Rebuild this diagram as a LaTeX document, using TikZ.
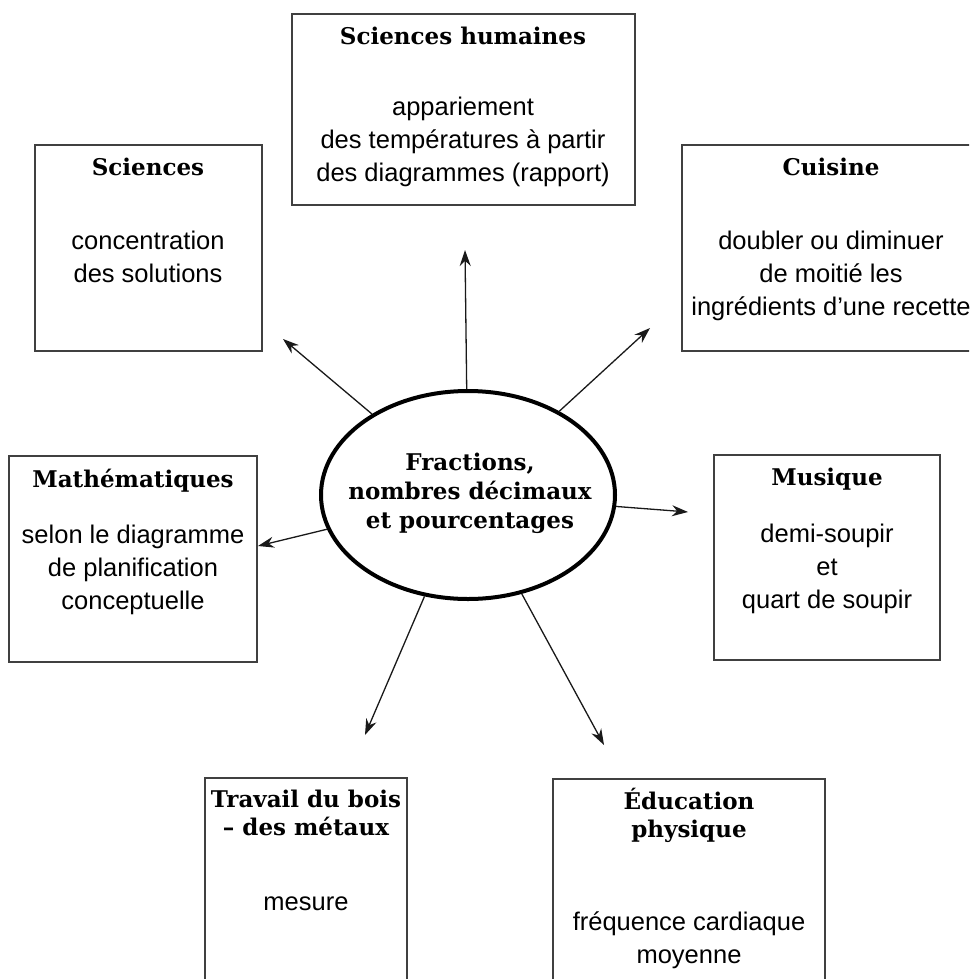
\documentclass[tikz,border=0pt]{standalone}
\usepackage{fontspec}
\setmainfont{Liberation Sans}
\newfontfamily\headfont{DejaVu Serif}
\usetikzlibrary{shapes.geometric,arrows.meta}

\begin{document}
\begin{tikzpicture}[
    x=1pt, y=-1pt,
    box/.style={rectangle, draw=black!75, line width=1.2pt, inner sep=0pt},
    ttl/.style={font=\headfont\bfseries\fontsize{23}{28}\selectfont, align=center, anchor=base, inner sep=0pt},
    txt/.style={font=\fontsize{25.5}{33}\selectfont, align=center, anchor=base, inner sep=0pt},
    arrow/.style={-{Stealth[length=16pt,width=11pt]}, line width=1.3pt, black!90}
]
\useasboundingbox (0,0) rectangle (969,979);
\clip (0,0) rectangle (969,979);

% Centre
\node[ellipse, draw, line width=4pt, minimum width=294pt, minimum height=208pt, inner sep=0pt] (ctr) at (468,495) {};
\node[ttl, font=\headfont\bfseries\fontsize{23}{29}\selectfont] (ctrT) at (470,528) {Fractions,\\nombres décimaux\\et pourcentages};

% Sciences humaines
\node[box, minimum width=343pt, minimum height=191pt] (sh) at (463.5,109.5) {};
\node[ttl] (shT) at (463,45) {Sciences humaines};
\node[txt] (shB) at (463,181) {appariement\\des températures à partir\\des diagrammes (rapport)};

% Sciences
\node[box, minimum width=227pt, minimum height=206pt] (sci) at (148.5,248) {};
\node[ttl] (sciT) at (148,175) {Sciences};
\node[txt] (sciB) at (148,282) {concentration\\des solutions};

% Cuisine
\node[box, minimum width=298pt, minimum height=206pt] (cui) at (831,248) {};
\node[ttl] (cuiT) at (831,175) {Cuisine};
\node[txt] (cuiB) at (831,315) {doubler ou diminuer\\de moitié les\\ingrédients d’une recette};

% Mathematiques
\node[box, minimum width=248pt, minimum height=206pt] (mat) at (133,559) {};
\node[ttl] (matT) at (133,487) {Mathématiques};
\node[txt] (matB) at (133,609) {selon le diagramme\\de planification\\conceptuelle};

% Musique
\node[box, minimum width=226pt, minimum height=205pt] (mus) at (827,557.5) {};
\node[ttl] (musT) at (827,485) {Musique};
\node[txt] (musB) at (827,608) {demi-soupir\\et\\quart de soupir};

% Travail du bois
\node[box, minimum width=202pt, minimum height=222pt] (trv) at (306,889) {};
\node[ttl] (trvT) at (306,835) {Travail du bois\\– des métaux};
\node[txt] (trvB) at (306,910) {mesure};

% Education physique
\node[box, minimum width=272pt, minimum height=221pt] (edu) at (689,889.5) {};
\node[ttl] (eduT) at (689,837) {Éducation\\physique};
\node[txt] (eduB) at (689,963) {fréquence cardiaque\\moyenne};

% Arrow ends
\coordinate (tUp) at (465,250);
\coordinate (tUL) at (283,339);
\coordinate (tUR) at (650,328);
\coordinate (tL) at (258,546);
\coordinate (tR) at (688,512);
\coordinate (tLL) at (365,735);
\coordinate (tLR) at (604,745);

% Arrows
\draw[arrow] (ctr) -- (tUp);
\draw[arrow] (ctr) -- (tUL);
\draw[arrow] (ctr) -- (tUR);
\draw[arrow] (ctr) -- (tL);
\draw[arrow] (ctr) -- (tR);
\draw[arrow] (ctr) -- (tLL);
\draw[arrow] (ctr) -- (tLR);

\end{tikzpicture}
\end{document}
